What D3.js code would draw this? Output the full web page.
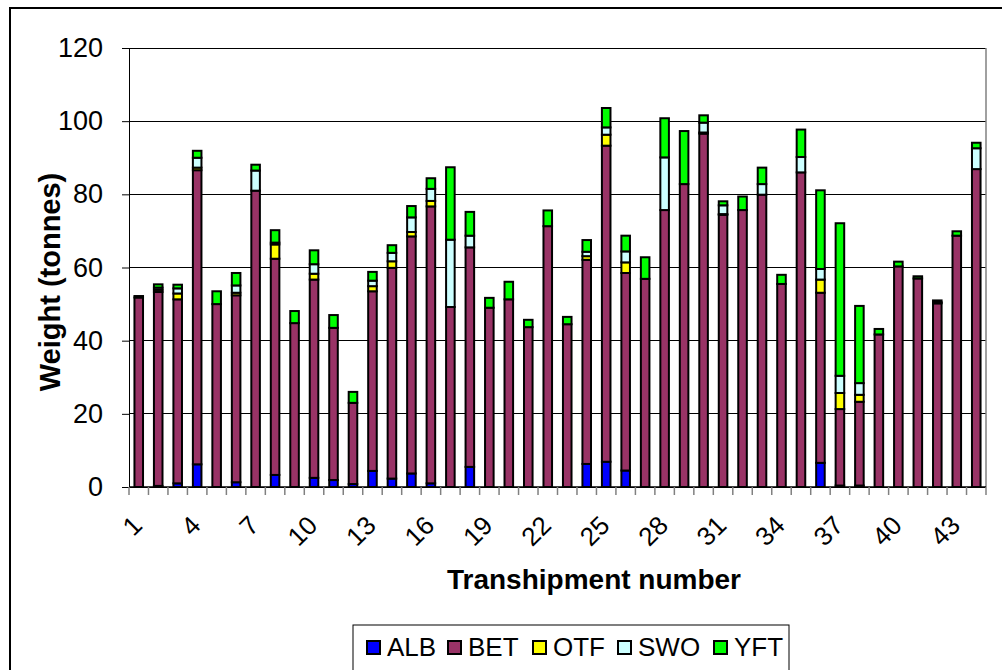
<!DOCTYPE html>
<meta charset="utf-8">
<title>Transhipment weights</title>
<style>
  body { margin: 0; background: white; }
  svg { font-family: "Liberation Sans", Arial, sans-serif; }
</style>
<body>
<div id="chart"></div>
<script src="https://d3js.org/d3.v7.min.js"></script>
<script>

// transhipment numbers (x categories)
var transhipments = [1,2,3,4,5,6,7,8,9,10,11,12,13,14,15,16,17,18,19,20,21,22,
                     23,24,25,26,27,28,29,30,31,32,33,34,35,36,37,38,39,40,41,42,43,44];
var xTickLabels = [1,4,7,10,13,16,19,22,25,28,31,34,37,40,43];
var yTicks = [0,20,40,60,80,100,120];

var species = ["ALB","BET","OTF","SWO","YFT"];

// weights in tonnes
var ALB = [0,0.3,1.0,6.2,0,1.3,0,3.3,0,2.5,1.9,0.8,4.4,2.3,3.7,1.0,0,5.5,0,0,0,0,
           0,6.3,6.9,4.5,0,0,0,0,0,0,0,0,0,6.6,0.4,0.4,0,0,0,0,0,0];
var BET = [51.8,53.0,50.3,80.4,50.0,51.1,81.0,59.1,44.8,54.2,41.6,22.2,49.1,57.6,64.8,75.7,49.2,60.0,49.0,51.3,43.7,71.3,
           44.5,55.8,86.4,54.0,56.9,75.7,82.8,96.6,74.4,75.7,79.9,55.5,86.0,46.5,20.9,22.9,41.7,60.3,57.0,50.2,68.7,86.9];
var OTF = [0,0.6,1.6,0.7,0,0.7,0,3.9,0,1.6,0,0,1.4,1.8,1.2,1.5,0,0,0,0,0,0,
           0,1.0,3.0,2.9,0,0,0,0.3,0.2,0,0,0,0,3.6,4.4,1.9,0,0,0,0,0,0];
var SWO = [0,0.6,1.4,2.7,0,2.0,5.5,0.5,0,2.6,0,0,1.5,2.3,4.0,3.3,18.4,3.2,0,0,0,0,
           0,1.2,2.0,3.0,0,14.4,0,2.7,2.4,0,2.9,0,4.2,2.9,4.7,3.2,0,0,0,0.3,0,5.7];
var YFT = [0.4,0.9,1.0,1.9,3.5,3.4,1.6,3.4,3.3,3.8,3.5,3.0,2.4,2.1,3.1,2.9,19.8,6.5,2.7,4.8,2.0,4.3,
           2.0,3.2,5.3,4.3,5.9,10.7,14.5,2.0,1.1,3.7,4.5,2.5,7.5,21.5,41.7,21.1,1.5,1.3,0.6,0.5,1.2,1.5];

var colors = {ALB: "#0000ff", BET: "#993366", OTF: "#ffff00", SWO: "#ccffff", YFT: "#00ff00"};

var W = 1002, H = 670;
var margin = {top: 48, left: 129, right: 16, bottom: 183};
var width = W - margin.left - margin.right,
    height = H - margin.top - margin.bottom;

var svg = d3.select("#chart").append("svg")
    .attr("width", W)
    .attr("height", H);

// outer chart border (runs off the right and bottom edges)
svg.append("rect")
    .attr("x", 10).attr("y", 8)
    .attr("width", W + 20).attr("height", H + 20)
    .attr("fill", "white")
    .attr("stroke", "black")
    .attr("stroke-width", 2);

var g = svg.append("g")
    .attr("transform", "translate(" + margin.left + "," + margin.top + ")");

var table = transhipments.map(function(t, i) {
  return {t: t, ALB: ALB[i], BET: BET[i], OTF: OTF[i], SWO: SWO[i], YFT: YFT[i]};
});

var x = d3.scaleBand().domain(transhipments).range([0, width]).paddingInner(0.56).paddingOuter(0.28);
var y = d3.scaleLinear().domain([0, 120]).range([height, 0]);
var step = x.step();
var gap = (step - x.bandwidth()) / 2;

// gridlines
g.selectAll(".grid").data(yTicks).enter().append("line")
    .attr("x1", 0).attr("x2", width)
    .attr("y1", function(d) { return y(d); })
    .attr("y2", function(d) { return y(d); })
    .attr("stroke", "black").attr("stroke-width", 1)
    .attr("shape-rendering", "crispEdges");

// right border of plot area
g.append("line")
    .attr("x1", width).attr("x2", width)
    .attr("y1", 0).attr("y2", height)
    .attr("stroke", "#808080").attr("stroke-width", 1.5);

// y axis
var yAxis = g.append("g")
    .call(d3.axisLeft(y).tickValues(yTicks).tickSize(7).tickPadding(19));
yAxis.select(".domain").attr("stroke", "black");
yAxis.selectAll("text").style("font-size", "27px").attr("fill", "black");

// stacked bars
var stack = d3.stack().keys(species)(table);

g.selectAll(".series").data(stack).enter().append("g")
    .attr("fill", function(d) { return colors[d.key]; })
  .selectAll("rect")
    .data(function(d) { return d.filter(function(s) { return s[1] - s[0] > 0; }); })
  .enter().append("rect")
    .attr("x", function(d) { return x(d.data.t); })
    .attr("width", x.bandwidth())
    .attr("y", function(d) { return y(d[1]); })
    .attr("height", function(d) { return y(d[0]) - y(d[1]); })
    .attr("stroke", "black")
    .attr("stroke-width", 2);

// x axis: ticks at category boundaries
var xAxisG = g.append("g").attr("transform", "translate(0," + height + ")");
xAxisG.append("line")
    .attr("x1", 0).attr("x2", width)
    .attr("stroke", "black").attr("stroke-width", 1.5);
xAxisG.selectAll(".tick").data(transhipments).enter().append("line")
    .attr("x1", function(d) { return x(d) - gap; })
    .attr("x2", function(d) { return x(d) - gap; })
    .attr("y1", 0).attr("y2", 8)
    .attr("stroke", "#808080").attr("stroke-width", 1.5);
xAxisG.append("line")
    .attr("x1", width).attr("x2", width).attr("y1", 0).attr("y2", 8)
    .attr("stroke", "#808080").attr("stroke-width", 1.5);

xAxisG.selectAll(".lbl").data(xTickLabels).enter().append("text")
    .attr("transform", function(d) {
      return "translate(" + (x(d) + x.bandwidth() / 2 + 5) + ",40) rotate(-45)";
    })
    .attr("text-anchor", "end")
    .style("font-size", "26px")
    .text(function(d) { return d; });

// axis titles
svg.append("text")
    .attr("x", 594).attr("y", 589)
    .attr("text-anchor", "middle")
    .style("font-size", "28px").style("font-weight", "bold")
    .text("Transhipment number");

svg.append("text")
    .attr("transform", "translate(60,282) rotate(-90)")
    .attr("text-anchor", "middle")
    .style("font-size", "29px").style("font-weight", "bold")
    .text("Weight (tonnes)");

// legend
var legend = svg.append("g");
legend.append("rect")
    .attr("x", 353).attr("y", 625)
    .attr("width", 436).attr("height", 50)
    .attr("fill", "white").attr("stroke", "black").attr("stroke-width", 1);

var legendX = [367, 448, 533, 618, 714];
var items = legend.selectAll(".item").data(species).enter().append("g")
    .attr("transform", function(d, i) { return "translate(" + legendX[i] + ",0)"; });
items.append("rect")
    .attr("x", 0).attr("y", 641)
    .attr("width", 13).attr("height", 13)
    .attr("fill", function(d) { return colors[d]; })
    .attr("stroke", "black").attr("stroke-width", 2);
items.append("text")
    .attr("x", 20).attr("y", 656)
    .style("font-size", "26px")
    .text(function(d) { return d; });

</script>
</body>
